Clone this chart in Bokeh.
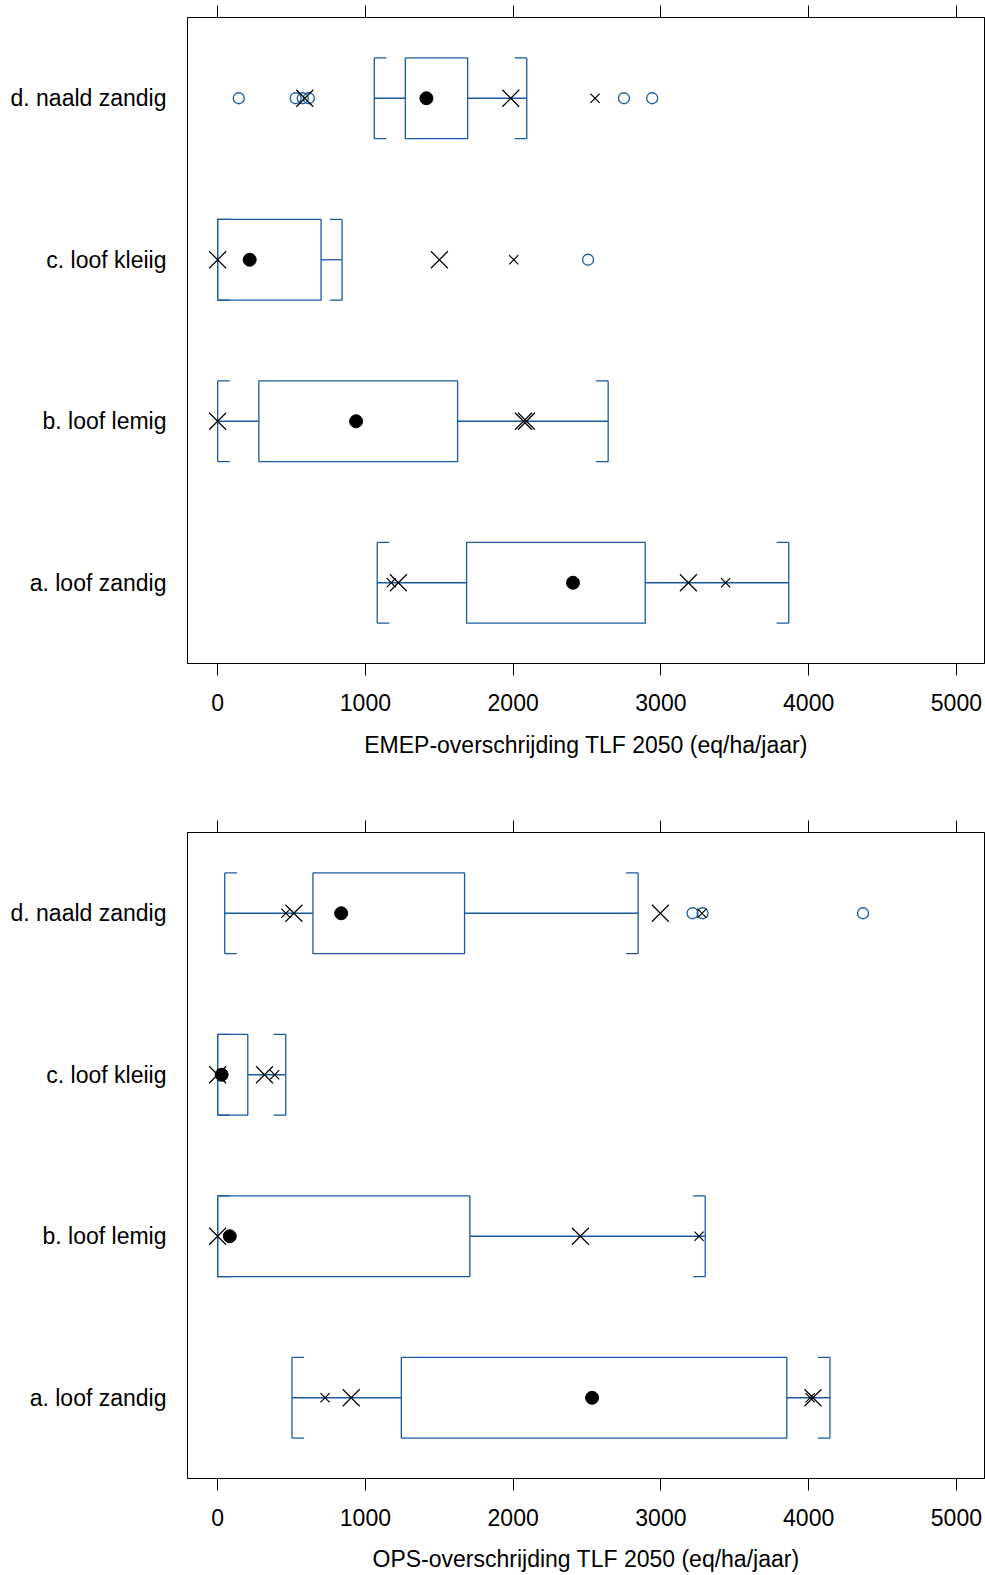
from bokeh.plotting import figure
from bokeh.models import LinearAxis, FixedTicker, Range1d, ColumnDataSource
from bokeh.layouts import column
from bokeh.embed import file_html
from bokeh.resources import INLINE

# ---------------- data ----------------
categories = ["a. loof zandig", "b. loof lemig", "c. loof kleiig", "d. naald zandig"]
x_ticks = [0, 1000, 2000, 3000, 4000, 5000]

emep_label = "EMEP-overschrijding TLF 2050 (eq/ha/jaar)"
emep_whisker_lo = [1080, 0, 0, 1060]
emep_q1 = [1685, 279, 0, 1270]
emep_median = [2405, 937, 217, 1413]
emep_q3 = [2894, 1624, 700, 1692]
emep_whisker_hi = [3865, 2643, 842, 2092]
emep_bigx_cat = ["a. loof zandig", "a. loof zandig", "b. loof lemig", "b. loof lemig", "b. loof lemig",
                 "c. loof kleiig", "c. loof kleiig", "d. naald zandig", "d. naald zandig"]
emep_bigx_val = [1223, 3186, 0, 2070, 2090, 0, 1501, 590, 1984]
emep_smallx_cat = ["a. loof zandig", "a. loof zandig", "c. loof kleiig", "d. naald zandig"]
emep_smallx_val = [1175, 3438, 2004, 2554]
emep_out_cat = ["c. loof kleiig", "d. naald zandig", "d. naald zandig", "d. naald zandig",
                "d. naald zandig", "d. naald zandig", "d. naald zandig"]
emep_out_val = [2507, 143, 528, 576, 617, 2750, 2941]

ops_label = "OPS-overschrijding TLF 2050 (eq/ha/jaar)"
ops_whisker_lo = [503, 0, 0, 48]
ops_q1 = [1243, 0, 0, 645]
ops_median = [2534, 82, 27, 836]
ops_q3 = [3852, 1707, 204, 1671]
ops_whisker_hi = [4144, 3300, 461, 2846]
ops_bigx_cat = ["a. loof zandig", "a. loof zandig", "b. loof lemig", "b. loof lemig",
                "c. loof kleiig", "c. loof kleiig", "d. naald zandig", "d. naald zandig"]
ops_bigx_val = [904, 4029, 0, 2455, 0, 317, 516, 2996]
ops_smallx_cat = ["a. loof zandig", "a. loof zandig", "b. loof lemig", "c. loof kleiig",
                  "d. naald zandig", "d. naald zandig"]
ops_smallx_val = [727, 4010, 3258, 386, 462, 3278]
ops_out_cat = ["d. naald zandig", "d. naald zandig", "d. naald zandig"]
ops_out_val = [3214, 3282, 4368]

# ---------------- style ----------------
BLUE = "#1a5a9e"
FONT = "Liberation Sans"
FS = "23px"
X_RANGE = (-204, 5190)
BOX_HALF = 0.25
SERIF = 82  # length of bracket serifs, data units


def panel(label, wlo, q1, med, q3, whi, bx_c, bx_v, sx_c, sx_v, o_c, o_v,
          height, top_border, bottom_border, top_tick, label_standoff):
    pos = {c: i + 1 for i, c in enumerate(categories)}
    ys = [pos[c] for c in categories]
    p = figure(width=985, height=height, output_backend="svg", toolbar_location=None,
               x_range=Range1d(*X_RANGE), y_range=Range1d(0.5, 4.5),
               min_border_left=187, min_border_right=1,
               min_border_top=top_border, min_border_bottom=bottom_border,
               x_axis_location=None, y_axis_location=None)
    p.xgrid.visible = False
    p.ygrid.visible = False
    p.outline_line_color = "black"
    p.outline_line_width = 1
    p.background_fill_color = "white"
    p.border_fill_color = "white"

    # axes
    xb = LinearAxis(ticker=FixedTicker(ticks=x_ticks), axis_label=label)
    xb.major_tick_out = 12
    xb.major_tick_in = 0
    xb.minor_tick_line_color = None
    xb.axis_line_color = "black"
    xb.major_label_text_font = FONT
    xb.major_label_text_font_size = FS
    xb.major_label_text_color = "black"
    xb.major_label_standoff = 18
    xb.axis_label_text_font = FONT
    xb.axis_label_text_font_size = FS
    xb.axis_label_text_font_style = "normal"
    xb.axis_label_text_color = "black"
    xb.axis_label_standoff = label_standoff
    p.add_layout(xb, "below")

    xt = LinearAxis(ticker=FixedTicker(ticks=x_ticks))
    xt.major_tick_out = top_tick
    xt.major_tick_in = 0
    xt.minor_tick_line_color = None
    xt.axis_line_color = "black"
    xt.major_label_text_color = None
    xt.major_label_standoff = 0
    p.add_layout(xt, "above")

    yl = LinearAxis(ticker=FixedTicker(ticks=ys))
    yl.major_label_overrides = {pos[c]: c for c in categories}
    yl.major_tick_out = 0
    yl.major_tick_in = 0
    yl.minor_tick_line_color = None
    yl.axis_line_color = None
    yl.major_label_text_font = FONT
    yl.major_label_text_font_size = FS
    yl.major_label_text_color = "black"
    yl.major_label_standoff = 21
    p.add_layout(yl, "left")

    src = ColumnDataSource(dict(
        y=ys, ytop=[y + BOX_HALF for y in ys], ybot=[y - BOX_HALF for y in ys],
        wlo=wlo, q1=q1, med=med, q3=q3, whi=whi,
        wlo_in=[v + SERIF for v in wlo], whi_in=[v - SERIF for v in whi]))

    lw = 1.3
    # whisker lines
    p.segment(x0="wlo", y0="y", x1="q1", y1="y", source=src, line_color=BLUE, line_width=lw)
    p.segment(x0="q3", y0="y", x1="whi", y1="y", source=src, line_color=BLUE, line_width=lw)
    # brackets
    for xc, xin in (("wlo", "wlo_in"), ("whi", "whi_in")):
        p.segment(x0=xc, y0="ybot", x1=xc, y1="ytop", source=src, line_color=BLUE, line_width=lw)
        p.segment(x0=xc, y0="ytop", x1=xin, y1="ytop", source=src, line_color=BLUE, line_width=lw)
        p.segment(x0=xc, y0="ybot", x1=xin, y1="ybot", source=src, line_color=BLUE, line_width=lw)
    # box
    p.quad(left="q1", right="q3", bottom="ybot", top="ytop", source=src,
           fill_color=None, line_color=BLUE, line_width=lw)
    # outliers
    p.scatter(x=o_v, y=[pos[c] for c in o_c], marker="circle", size=11,
              fill_color=None, line_color=BLUE, line_width=1.3)
    # percentile marks
    p.scatter(x=bx_v, y=[pos[c] for c in bx_c], marker="x", size=24,
              line_color="black", line_width=1.2)
    p.scatter(x=sx_v, y=[pos[c] for c in sx_c], marker="x", size=13,
              line_color="black", line_width=1.2)
    # median dot
    p.scatter(x="med", y="y", source=src, marker="circle", size=13,
              fill_color="black", line_color="black")
    return p


p1 = panel(emep_label, emep_whisker_lo, emep_q1, emep_median, emep_q3, emep_whisker_hi,
           emep_bigx_cat, emep_bigx_val, emep_smallx_cat, emep_smallx_val,
           emep_out_cat, emep_out_val,
           height=820, top_border=17, bottom_border=157, top_tick=12, label_standoff=18)
p2 = panel(ops_label, ops_whisker_lo, ops_q1, ops_median, ops_q3, ops_whisker_hi,
           ops_bigx_cat, ops_bigx_val, ops_smallx_cat, ops_smallx_val,
           ops_out_cat, ops_out_val,
           height=755, top_border=12, bottom_border=97, top_tick=12, label_standoff=17)

layout = column(p1, p2, spacing=0)
open("out.html", "w").write(file_html(layout, INLINE))
